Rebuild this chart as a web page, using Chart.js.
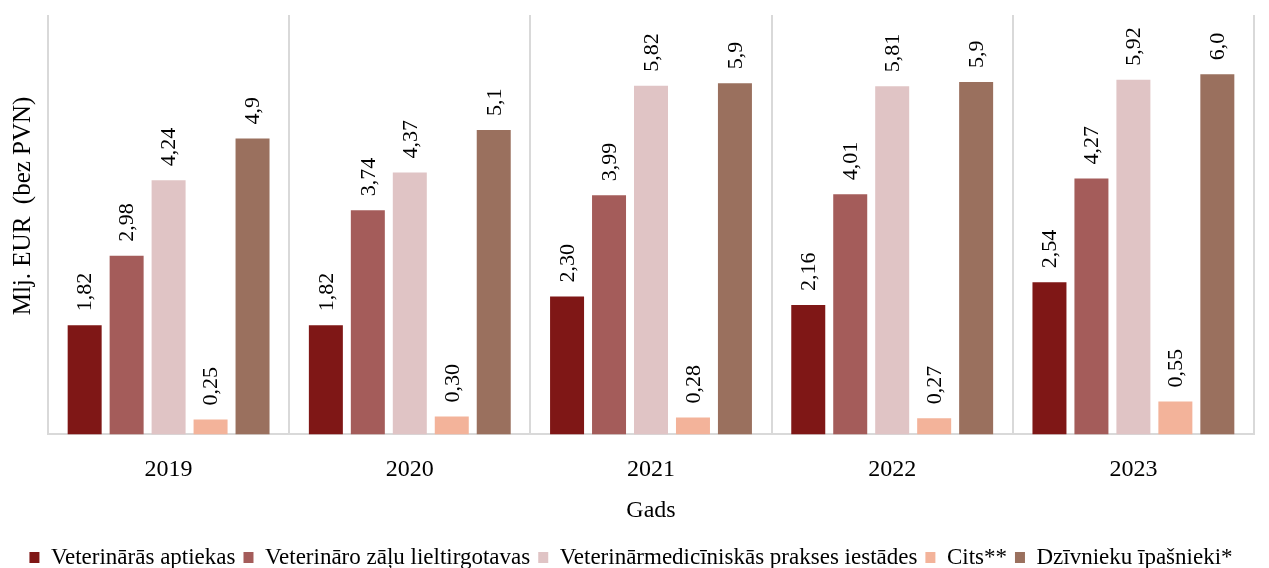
<!DOCTYPE html>
<html>
<head>
<meta charset="utf-8">
<script src="https://cdn.jsdelivr.net/npm/chart.js@4/dist/chart.umd.min.js"></script>
<style>
  html, body { margin: 0; padding: 0; background: #fff; }
  #wrap { width: 1269px; height: 568px; }
</style>
</head>
<body>
<div id="wrap"><canvas id="myChart"></canvas></div>
<script>
var years = ["2019", "2020", "2021", "2022", "2023"];
var seriesNames = [
  "Veterinārās aptiekas",
  "Veterināro zāļu lieltirgotavas",
  "Veterinārmedicīniskās prakses iestādes",
  "Cits**",
  "Dzīvnieku īpašnieki*"
];
var aptiekas = [1.82, 1.82, 2.30, 2.16, 2.54];
var lieltirgotavas = [2.98, 3.74, 3.99, 4.01, 4.27];
var prakses = [4.24, 4.37, 5.82, 5.81, 5.92];
var cits = [0.25, 0.30, 0.28, 0.27, 0.55];
var ipasnieki = [4.94, 5.08, 5.86, 5.88, 6.01];
var labelDecimals = [2, 2, 2, 2, 1];
var colors = ["#7f1716", "#a45c5a", "#e0c4c5", "#f3b39a", "#9a705e"];

var font = "'Liberation Serif', 'Times New Roman', serif";

// rotated value labels above bars
var barLabels = {
  id: "barLabels",
  afterDatasetsDraw: function(chart) {
    var ctx = chart.ctx;
    ctx.save();
    ctx.font = "22px " + font;
    ctx.fillStyle = "#000";
    ctx.textAlign = "left";
    ctx.textBaseline = "middle";
    chart.data.datasets.forEach(function(ds, i) {
      chart.getDatasetMeta(i).data.forEach(function(bar, j) {
        var txt = ds.data[j].toFixed(labelDecimals[i]).replace(".", ",");
        ctx.save();
        ctx.translate(bar.x, bar.y - 14);
        ctx.rotate(-Math.PI / 2);
        ctx.fillText(txt, 0, 1);
        ctx.restore();
      });
    });
    ctx.restore();
  }
};

var allSeries = [aptiekas, lieltirgotavas, prakses, cits, ipasnieki];

var ctx = document.getElementById("myChart").getContext("2d");
new Chart(ctx, {
  type: "bar",
  data: {
    labels: years,
    datasets: allSeries.map(function(vals, i) {
      return {
        label: seriesNames[i],
        data: vals,
        backgroundColor: colors[i],
        barPercentage: 0.81,
        categoryPercentage: 0.87
      };
    })
  },
  plugins: [barLabels],
  options: {
    responsive: true,
    maintainAspectRatio: false,
    animation: false,
    layout: { padding: { left: 8, right: 15, top: 15, bottom: -11 } },
    plugins: {
      tooltip: { enabled: false },
      legend: {
        position: "bottom",
        labels: {
          color: "#000",
          font: { family: font, size: 23, lineHeight: 0.3 },
          boxWidth: 10,
          boxHeight: 11,
          padding: 8
        }
      }
    },
    scales: {
      x: {
        grid: { color: "#d9d9d9", lineWidth: 2, drawTicks: false },
        border: { color: "#d9d9d9", width: 2 },
        ticks: { color: "#000", font: { family: font, size: 24 }, padding: 21 },
        title: {
          display: true,
          text: "Gads",
          color: "#000",
          font: { family: font, size: 24 },
          padding: { top: -9, bottom: 13 }
        }
      },
      y: {
        min: 0,
        max: 7,
        grid: { display: false, drawTicks: false },
        border: { display: false },
        ticks: { display: false },
        title: {
          display: true,
          // leading spaces push the title a little up, as in the original
          text: "\u00a0\u00a0\u00a0\u00a0\u00a0\u00a0Mlj. EUR  (bez PVN)",
          color: "#000",
          font: { family: font, size: 25 },
          padding: { top: 0, bottom: 10 }
        }
      }
    }
  }
});
</script>
</body>
</html>
